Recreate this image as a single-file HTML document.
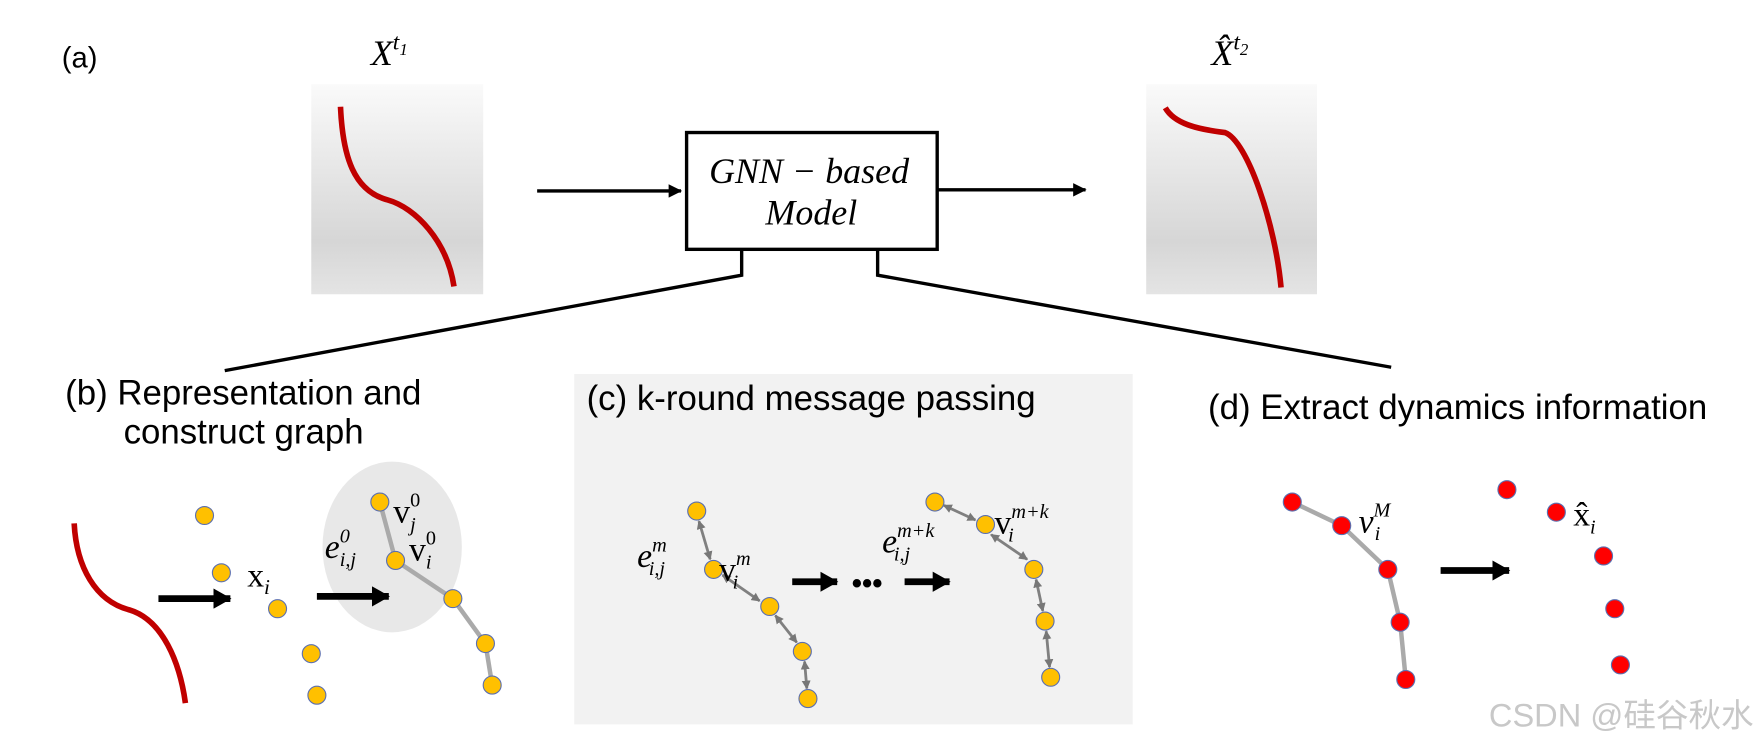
<!DOCTYPE html>
<html><head><meta charset="utf-8"><style>
html,body{margin:0;padding:0;background:#fff;width:1762px;height:748px;overflow:hidden}
svg{display:block}
.s{font-family:"Liberation Sans",sans-serif;fill:#000}
.m{font-family:"Liberation Serif",serif;font-style:italic;fill:#000}
.r{font-family:"Liberation Serif",serif;fill:#000}
</style></head><body>
<svg width="1762" height="748" viewBox="0 0 1568 666" preserveAspectRatio="none" xmlns="http://www.w3.org/2000/svg">
<defs>
<linearGradient id="g" x1="0" y1="0" x2="0" y2="1"><stop offset="0" stop-color="#fafafa"/><stop offset="0.75" stop-color="#d6d6d6"/><stop offset="1" stop-color="#e4e4e4"/></linearGradient>
<marker id="ah" markerWidth="12" markerHeight="12" refX="11" refY="6" orient="auto" markerUnits="userSpaceOnUse"><path d="M0,0L12,6L0,12z" fill="#000"/></marker>
<marker id="bh" markerWidth="16" markerHeight="18" refX="15" refY="9" orient="auto" markerUnits="userSpaceOnUse"><path d="M0,0L16,9L0,18z" fill="#000"/></marker>
<marker id="ga" markerWidth="8" markerHeight="8" refX="7" refY="4" orient="auto-start-reverse" markerUnits="userSpaceOnUse"><path d="M0,0L8,4L0,8z" fill="#777"/></marker>
</defs>
<text class="s" x="55" y="60" font-size="26">(a)</text>
<text class="m" x="330" y="58" font-size="32">X<tspan font-size="21" dy="-14">t</tspan><tspan font-size="15" dy="5">1</tspan></text>
<text class="m" x="1078" y="58" font-size="32">X̂<tspan font-size="21" dy="-14">t</tspan><tspan font-size="15" dy="5">2</tspan></text>
<rect x="277" y="75" width="153" height="187" fill="url(#g)"/>
<rect x="1020" y="75" width="152" height="187" fill="url(#g)"/>
<path d="M303,95 C305,140 315,170 345,178 C370,185 398,215 404,255" stroke="#c00000" stroke-width="5" fill="none"/>
<path d="M1037,96 C1045,110 1065,115 1090,118 C1110,125 1135,200 1140,256" stroke="#c00000" stroke-width="5" fill="none"/>
<line x1="478" y1="170" x2="606" y2="170" stroke="#000" stroke-width="3" marker-end="url(#ah)"/>
<line x1="835" y1="169" x2="966" y2="169" stroke="#000" stroke-width="3" marker-end="url(#ah)"/>
<rect x="611" y="118" width="223" height="104" fill="#fff" stroke="#000" stroke-width="3"/>
<text class="m" x="720" y="163" font-size="32" text-anchor="middle">GNN − based</text>
<text class="m" x="722" y="200" font-size="32" text-anchor="middle">Model</text>
<polyline points="660,222 660,245 200,330" fill="none" stroke="#000" stroke-width="3"/>
<polyline points="781,222 781,245 1238,327" fill="none" stroke="#000" stroke-width="3"/>
<text class="s" x="58" y="360" font-size="31">(b)  Representation and</text>
<text class="s" x="110" y="395" font-size="31">construct graph</text>
<rect x="511" y="333" width="497" height="312" fill="#f2f2f2"/>
<text class="s" x="522" y="365" font-size="31">(c)  k-round message passing</text>
<text class="s" x="1075" y="373" font-size="31">(d) Extract dynamics information</text>
<!-- b -->
<path d="M66,466 C68,505 85,535 115,543 C145,552 160,590 165,626" stroke="#c00000" stroke-width="5" fill="none"/>
<g fill="#ffc000" stroke="#5b6fb0" stroke-width="1">
<ellipse cx="182" cy="459" rx="8" ry="8"/><ellipse cx="197" cy="510" rx="8" ry="8"/><ellipse cx="247" cy="542" rx="8" ry="8"/><ellipse cx="277" cy="582" rx="8" ry="8"/><ellipse cx="282" cy="619" rx="8" ry="8"/>
</g>
<ellipse cx="349" cy="487" rx="62" ry="76" fill="#e8e8e8"/>
<line x1="141" y1="533" x2="205" y2="533" stroke="#000" stroke-width="6" marker-end="url(#bh)"/>
<line x1="282" y1="531" x2="346" y2="531" stroke="#000" stroke-width="6" marker-end="url(#bh)"/>
<text class="r" x="220" y="522" font-size="30">x<tspan class="m" font-size="19" dy="7">i</tspan></text>
<polyline points="338,447 352,499 403,533 432,573 438,610" fill="none" stroke="#aaa" stroke-width="4"/>
<g fill="#ffc000" stroke="#5b6fb0" stroke-width="1">
<ellipse cx="338" cy="447" rx="8" ry="8"/><ellipse cx="352" cy="499" rx="8" ry="8"/><ellipse cx="403" cy="533" rx="8" ry="8"/><ellipse cx="432" cy="573" rx="8" ry="8"/><ellipse cx="438" cy="610" rx="8" ry="8"/>
</g>
<text class="r" x="350" y="465" font-size="30">v<tspan font-size="18" dy="-14">0</tspan><tspan class="m" font-size="18" dx="-9" dy="22">j</tspan></text>
<text class="m" x="289" y="497" font-size="30">e<tspan class="r" font-size="18" dy="-14">0</tspan><tspan font-size="18" dx="-9" dy="21">i,j</tspan></text>
<text class="r" x="364" y="499" font-size="30">v<tspan font-size="18" dy="-14">0</tspan><tspan class="m" font-size="18" dx="-9" dy="21">i</tspan></text>
<!-- c -->
<g stroke="#808080" stroke-width="2.5" fill="none" marker-start="url(#ga)" marker-end="url(#ga)">
<line x1="622" y1="464" x2="632" y2="498"/><line x1="643" y1="512" x2="676" y2="535"/><line x1="690" y1="548" x2="709" y2="572"/><line x1="716" y1="589" x2="718" y2="613"/>
<line x1="840" y1="450" x2="868" y2="463"/><line x1="882" y1="476" x2="914" y2="498"/><line x1="922" y1="516" x2="928" y2="544"/><line x1="931" y1="562" x2="934" y2="594"/>
</g>
<g fill="#ffc000" stroke="#5b6fb0" stroke-width="1">
<ellipse cx="620" cy="455" rx="8" ry="8"/><ellipse cx="635" cy="507" rx="8" ry="8"/><ellipse cx="685" cy="540" rx="8" ry="8"/><ellipse cx="714" cy="580" rx="8" ry="8"/><ellipse cx="719" cy="622" rx="8" ry="8"/>
<ellipse cx="832" cy="447" rx="8" ry="8"/><ellipse cx="877" cy="467" rx="8" ry="8"/><ellipse cx="920" cy="507" rx="8" ry="8"/><ellipse cx="930" cy="553" rx="8" ry="8"/><ellipse cx="935" cy="603" rx="8" ry="8"/>
</g>
<text class="m" x="567" y="505" font-size="30">e<tspan font-size="18" dy="-14">m</tspan><tspan font-size="18" dx="-16" dy="21">i,j</tspan></text>
<text class="r" x="640" y="517" font-size="30">v<tspan class="m" font-size="18" dy="-14">m</tspan><tspan class="m" font-size="18" dx="-16" dy="21">i</tspan></text>
<line x1="705" y1="518" x2="745" y2="518" stroke="#000" stroke-width="6" marker-end="url(#bh)"/>
<text class="s" x="758" y="528" font-size="26" font-weight="bold">•••</text>
<line x1="805" y1="518" x2="845" y2="518" stroke="#000" stroke-width="6" marker-end="url(#bh)"/>
<text class="m" x="785" y="492" font-size="30">e<tspan font-size="18" dy="-14">m+k</tspan><tspan font-size="18" dx="-36" dy="21">i,j</tspan></text>
<text class="r" x="885" y="475" font-size="30">v<tspan class="m" font-size="18" dy="-14">m+k</tspan><tspan class="m" font-size="18" dx="-36" dy="21">i</tspan></text>
<!-- d -->
<polyline points="1150,447 1194,468 1235,507 1246,554 1251,605" fill="none" stroke="#aaa" stroke-width="4"/>
<g fill="#ff0000" stroke="#5b6fb0" stroke-width="1">
<ellipse cx="1150" cy="447" rx="8" ry="8"/><ellipse cx="1194" cy="468" rx="8" ry="8"/><ellipse cx="1235" cy="507" rx="8" ry="8"/><ellipse cx="1246" cy="554" rx="8" ry="8"/><ellipse cx="1251" cy="605" rx="8" ry="8"/>
<ellipse cx="1341" cy="436" rx="8" ry="8"/><ellipse cx="1385" cy="456" rx="8" ry="8"/><ellipse cx="1427" cy="495" rx="8" ry="8"/><ellipse cx="1437" cy="542" rx="8" ry="8"/><ellipse cx="1442" cy="592" rx="8" ry="8"/>
</g>
<text class="m" x="1209" y="474" font-size="30">v<tspan font-size="18" dy="-14">M</tspan><tspan font-size="18" dx="-14" dy="21">i</tspan></text>
<line x1="1282" y1="508" x2="1343" y2="508" stroke="#000" stroke-width="6" marker-end="url(#bh)"/>
<text class="r" x="1400" y="468" font-size="30">x̂<tspan class="m" font-size="18" dy="7">i</tspan></text>
<text x="1325" y="647" font-size="29" fill="#c8c8c8" font-family="'Liberation Sans','Noto Sans CJK SC',sans-serif">CSDN @硅谷秋水</text>
</svg>
</body></html>
